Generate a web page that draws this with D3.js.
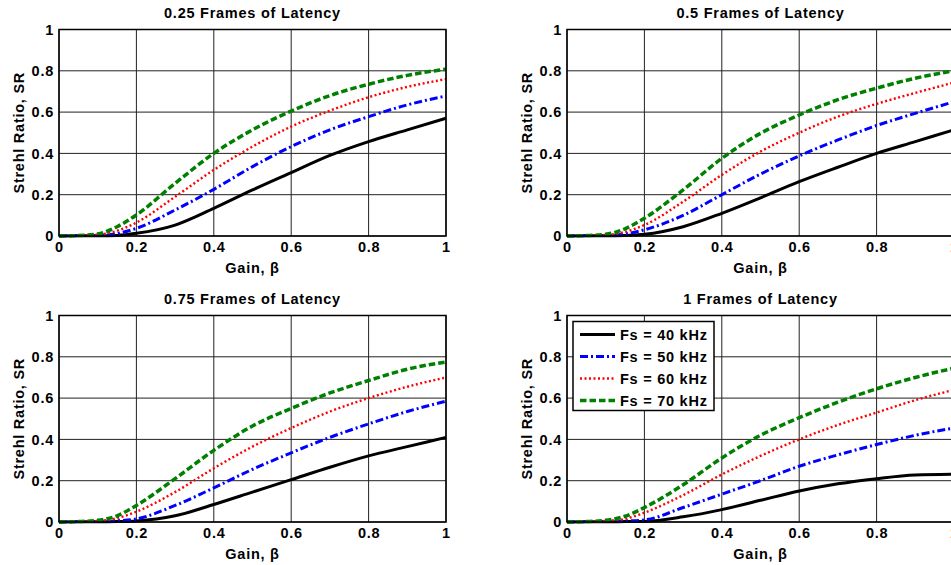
<!DOCTYPE html>
<html><head><meta charset="utf-8">
<script src="https://cdn.jsdelivr.net/npm/d3@7"></script>
<style>body{margin:0;background:#fff;overflow:hidden}svg{display:block}text{font-family:"Liberation Sans",Arial,sans-serif;font-weight:bold;letter-spacing:0.75px}</style>
</head><body><svg id="c" width="951" height="565"></svg>
<script>
const gains = [0,0.05,0.1,0.15,0.2,0.3,0.4,0.5,0.6,0.7,0.8,0.9,1.0];
const seriesNames = ["Fs = 40 kHz","Fs = 50 kHz","Fs = 60 kHz","Fs = 70 kHz"];
const panelTitles = ["0.25 Frames of Latency","0.5 Frames of Latency","0.75 Frames of Latency","1 Frames of Latency"];
const xTicks = [0,0.2,0.4,0.6,0.8,1];
const yTicks = [0,0.2,0.4,0.6,0.8,1];

// Latency 0.25
const p1_40 = [0,0.001,0.001,0.003,0.013,0.053,0.134,0.223,0.307,0.39,0.457,0.514,0.57];
const p1_50 = [0,0.002,0.003,0.012,0.037,0.126,0.226,0.336,0.433,0.514,0.578,0.635,0.678];
const p1_60 = [0,0.002,0.006,0.025,0.065,0.19,0.32,0.433,0.53,0.607,0.672,0.722,0.76];
const p1_70 = [0,0.002,0.01,0.045,0.102,0.255,0.40,0.514,0.605,0.68,0.735,0.778,0.808];
// Latency 0.5
const p2_40 = [0,0.001,0.001,0.002,0.008,0.045,0.11,0.185,0.263,0.333,0.40,0.457,0.514];
const p2_50 = [0,0.002,0.003,0.01,0.03,0.10,0.20,0.30,0.388,0.465,0.535,0.594,0.65];
const p2_60 = [0,0.002,0.005,0.02,0.053,0.166,0.296,0.409,0.50,0.578,0.64,0.693,0.743];
const p2_70 = [0,0.002,0.008,0.035,0.086,0.223,0.376,0.497,0.586,0.66,0.716,0.764,0.80];
// Latency 0.75
const p3_40 = [0,0.001,0.001,0.002,0.005,0.03,0.085,0.145,0.205,0.265,0.32,0.365,0.41];
const p3_50 = [0,0.002,0.003,0.006,0.015,0.08,0.165,0.255,0.335,0.41,0.475,0.535,0.585];
const p3_60 = [0,0.002,0.005,0.018,0.05,0.145,0.26,0.365,0.455,0.535,0.60,0.655,0.70];
const p3_70 = [0,0.002,0.008,0.03,0.08,0.21,0.347,0.465,0.55,0.625,0.685,0.74,0.775];
// Latency 1
const p4_40 = [0,0.001,0.001,0.002,0.003,0.025,0.06,0.105,0.15,0.185,0.21,0.228,0.232];
const p4_50 = [0,0.002,0.003,0.005,0.01,0.07,0.135,0.20,0.27,0.325,0.375,0.42,0.455];
const p4_60 = [0,0.002,0.005,0.015,0.045,0.13,0.23,0.32,0.40,0.47,0.53,0.59,0.64];
const p4_70 = [0,0.002,0.008,0.028,0.07,0.18,0.31,0.42,0.505,0.58,0.645,0.70,0.745];

const panelData = [[p1_40,p1_50,p1_60,p1_70],[p2_40,p2_50,p2_60,p2_70],[p3_40,p3_50,p3_60,p3_70],[p4_40,p4_50,p4_60,p4_70]];

const styles = [
  {color:"#000000", width:3, dash:null},
  {color:"#0000ff", width:3, dash:"8,3,2,3"},
  {color:"#ff0000", width:2.4, dash:"2,2.5"},
  {color:"#008000", width:3.5, dash:"6.5,3"}
];

const panels = [
  {x:59, y:29.5},
  {x:567, y:29.5},
  {x:59, y:315.5},
  {x:567, y:315.5}
];
const W = 387, H = 206.5;

const svg = d3.select("#c");

panels.forEach((p,i)=>{
  const g = svg.append("g").attr("transform",`translate(${p.x},${p.y})`);
  const x = d3.scaleLinear().domain([0,1]).range([0,W]);
  const y = d3.scaleLinear().domain([0,1]).range([H,0]);

  g.append("g").selectAll("line").data(xTicks).join("line")
    .attr("x1",d=>x(d)).attr("x2",d=>x(d)).attr("y1",0).attr("y2",H)
    .attr("stroke","#222").attr("stroke-width",1);
  g.append("g").selectAll("line").data(yTicks).join("line")
    .attr("x1",0).attr("x2",W).attr("y1",d=>y(d)).attr("y2",d=>y(d))
    .attr("stroke","#222").attr("stroke-width",1);

  const line = d3.line().x((d,k)=>x(gains[k])).y(d=>y(d)).curve(d3.curveMonotoneX);
  panelData[i].forEach((vals,s)=>{
    const st = styles[s];
    g.append("path").datum(vals).attr("d",line)
      .attr("fill","none").attr("stroke",st.color).attr("stroke-width",st.width)
      .attr("stroke-dasharray",st.dash).attr("stroke-linejoin","round");
  });

  g.append("rect").attr("x",0).attr("y",0).attr("width",W).attr("height",H)
    .attr("fill","none").attr("stroke","#000").attr("stroke-width",1.5);

  const xa = d3.axisBottom(x).tickValues(xTicks).tickFormat(d3.format("~g")).tickSize(0).tickPadding(6);
  const ya = d3.axisLeft(y).tickValues(yTicks).tickFormat(d3.format("~g")).tickSize(0).tickPadding(5);
  const gx = g.append("g").attr("transform",`translate(0,${H})`).call(xa);
  const gy = g.append("g").call(ya);
  [gx,gy].forEach(a=>{a.select(".domain").remove();
    a.selectAll("text").attr("font-size",14.5).attr("font-weight","bold").attr("fill","#000")
     .attr("font-family","'Liberation Sans',Arial,sans-serif");});

  g.append("text").attr("x",W/2).attr("y",-12).attr("text-anchor","middle")
    .attr("font-size",14.5).text(panelTitles[i]);
  g.append("text").attr("x",W/2).attr("y",H+37).attr("text-anchor","middle")
    .attr("font-size",14.5).text("Gain, β");
  g.append("text").attr("transform",`translate(-35,${H/2}) rotate(-90)`).attr("text-anchor","middle")
    .attr("font-size",14.5).text("Strehl Ratio, SR");

  if(i===3){
    const lg = g.append("g").attr("transform","translate(6,6)");
    lg.append("rect").attr("x",0).attr("y",0).attr("width",141).attr("height",89)
      .attr("fill","#fff").attr("stroke","#000").attr("stroke-width",1.5);
    seriesNames.forEach((n,s)=>{
      const st = styles[s];
      const yy = 13 + s*22;
      lg.append("line").attr("x1",7).attr("x2",42).attr("y1",yy).attr("y2",yy)
        .attr("stroke",st.color).attr("stroke-width",st.width).attr("stroke-dasharray",st.dash);
      lg.append("text").attr("x",47).attr("y",yy+5).attr("font-size",14.5).text(n);
    });
  }
});
</script></body></html>
